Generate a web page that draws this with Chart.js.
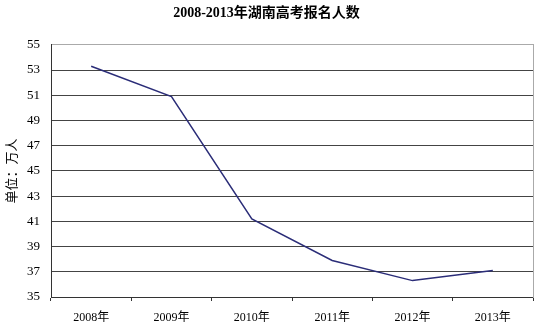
<!DOCTYPE html>
<html lang="zh">
  <head>
    <meta charset="UTF-8" />
    <title>2008-2013年湖南高考报名人数</title>
    <style>
      html, body { margin: 0; padding: 0; background: #fff; }
      .wrap { width: 540px; height: 327px; }
    </style>
    <script src="https://cdn.jsdelivr.net/npm/chart.js"></script>
  </head>
  <body>
    <div class="wrap"><canvas id="gkChart" width="540" height="327"></canvas></div>
    <script>
      const years = ["2008年", "2009年", "2010年", "2011年", "2012年", "2013年"];
      const applicants = [53.3, 50.9, 41.2, 37.9, 36.3, 37.1];
      const yMin = 35, yMax = 55, yStep = 2;

      const serif = "'Liberation Serif', 'Noto Sans CJK SC', serif";

      const ctx = document.getElementById("gkChart").getContext("2d");
      new Chart(ctx, {
        type: "line",
        data: {
          labels: years,
          datasets: [{
            data: applicants,
            borderColor: "#2b2d78",
            borderWidth: 1.5,
            pointRadius: 0,
            tension: 0,
            fill: false
          }]
        },
        options: {
          responsive: false,
          animation: false,
          layout: { padding: { left: 0, right: 7, top: 0, bottom: 0 } },
          plugins: {
            legend: { display: false },
            tooltip: { enabled: false },
            title: {
              display: true,
              text: "2008-2013年湖南高考报名人数",
              color: "#000",
              font: { family: serif, size: 14, weight: "bold" },
              padding: { top: 5, bottom: 23 }
            }
          },
          scales: {
            x: {
              offset: true,
              afterFit: s => { s.height = 30; },
              grid: {
                offset: true,
                drawOnChartArea: false,
                drawTicks: true,
                tickLength: 4,
                tickColor: "#333"
              },
              border: { color: "#333", width: 1 },
              ticks: {
                color: "#000",
                padding: 10,
                maxRotation: 0,
                font: { family: serif, size: 12 }
              }
            },
            y: {
              min: yMin,
              max: yMax,
              afterFit: s => { s.width = 51; },
              grid: {
                drawTicks: false,
                color: c => c.tick && c.tick.value === yMax ? "#aaa" : "#444"
              },
              border: { color: "#333", width: 1 },
              ticks: {
                stepSize: yStep,
                color: "#000",
                padding: 11,
                font: { family: serif, size: 13 }
              },
              title: {
                display: true,
                text: "单位：万人",
                color: "#000",
                padding: { top: 3, bottom: 4 },
                font: { family: "'Noto Sans CJK SC', sans-serif", size: 13 }
              }
            },
            y2: {
              position: "right",
              min: yMin,
              max: yMax,
              grid: { drawOnChartArea: false, drawTicks: false },
              border: { color: "#aaa", width: 1 },
              ticks: { display: false }
            }
          }
        }
      });
    </script>
  </body>
</html>
